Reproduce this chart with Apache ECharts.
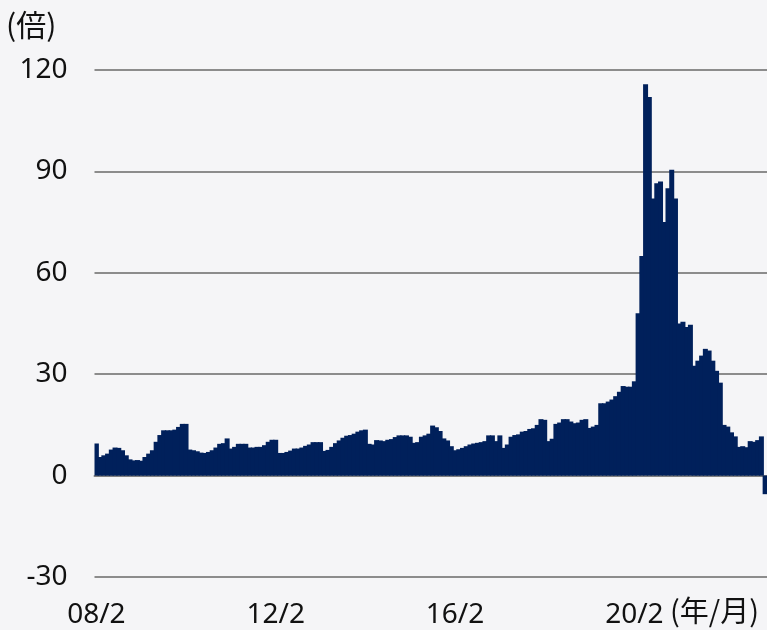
<!DOCTYPE html>
<html><head><meta charset="utf-8">
<script src="https://cdn.jsdelivr.net/npm/echarts@6/dist/echarts.min.js"></script>
<style>html,body{margin:0;padding:0;background:#f5f5f7}#c{width:767px;height:630px}</style>
</head><body><div id="c"></div>
<script>
// Monthly values, each array runs Feb of the year to Jan of the next year
const fy2008 = [9.5, 5.5, 6, 6.5, 7.7, 8.3, 8.2, 7.5, 6, 4.8, 4.5, 4.6];
const fy2009 = [4.4, 5.5, 6.5, 7.5, 10, 12, 13.4, 13.4, 13.4, 13.6, 14.4, 15.3];
const fy2010 = [15.3, 7.7, 7.5, 7.2, 6.8, 6.7, 7, 7.5, 8.3, 9.4, 9.6, 11];
const fy2011 = [8, 8.5, 9.4, 9.4, 9.4, 8.3, 8.3, 8.5, 8.5, 9, 10, 10.6];
const fy2012 = [10.6, 6.7, 6.7, 7, 7.4, 8, 8, 8.3, 8.8, 9.2, 9.9, 9.9];
const fy2013 = [9.9, 7.3, 7.6, 8.5, 9.6, 10.4, 11.2, 11.8, 12, 12.4, 13, 13.4];
const fy2014 = [13.6, 9.4, 9.2, 10.5, 10.4, 10.2, 10.6, 10.8, 11.4, 11.9, 11.9, 11.9];
const fy2015 = [11.5, 9.7, 9.9, 11.5, 11.9, 12.4, 14.8, 14.3, 13.2, 11, 10.4, 8.7];
const fy2016 = [7.5, 7.8, 8.2, 8.7, 9.2, 9.5, 9.7, 9.9, 10.2, 11.9, 11.9, 10.2];
const fy2017 = [11.9, 8.2, 9.2, 11.5, 12, 12.2, 13, 13.2, 13.8, 14, 15, 16.7];
const fy2018 = [16.5, 10.2, 10.9, 15.3, 15.7, 16.7, 16.7, 16, 15.5, 15.7, 16.5, 16.7];
const fy2019 = [14.1, 14.5, 15, 21.4, 21.4, 21.9, 22.5, 23.5, 24.8, 26.5, 26.3, 26.3];
const fy2020 = [27.9, 48, 65, 115.8, 112, 82, 86.5, 87, 75, 85, 90.5, 82];
const fy2021 = [45, 45.5, 44, 44.6, 32.5, 34, 35.5, 37.5, 37, 34, 31, 27.5];
const fy2022 = [15, 14.5, 12.8, 11.6, 8.5, 8.7, 8.4, 10.2, 10, 10.5, 11.6, -5.5];

const fiscalYears = [2008,2009,2010,2011,2012,2013,2014,2015,2016,2017,2018,2019,2020,2021,2022];
const monthOrder = [2,3,4,5,6,7,8,9,10,11,12,1];
const tickLabels = ['08/2', '12/2', '16/2', '20/2'];
const yTicks = {min: -30, max: 120, step: 30};

const values = [].concat(fy2008, fy2009, fy2010, fy2011, fy2012, fy2013, fy2014,
  fy2015, fy2016, fy2017, fy2018, fy2019, fy2020, fy2021, fy2022);
const categories = [];
fiscalYears.forEach(y => monthOrder.forEach(m => {
  const yy = (m === 1 ? y + 1 : y) % 100;
  categories.push(String(yy).padStart(2, '0') + '/' + m);
}));
const showTick = (i, v) => tickLabels.indexOf(categories[i]) >= 0;

const FONT = '"Noto Sans", "Noto Sans CJK JP", sans-serif';
const NAVY = '#00205b';
const chart = echarts.init(document.getElementById('c'), null, {renderer: 'canvas'});
chart.setOption({
  backgroundColor: '#f5f5f7',
  animation: false,
  textStyle: {fontFamily: FONT},
  grid: {left: 94.5, top: 70, width: 676, height: 507},
  xAxis: [{
    type: 'category', data: categories, position: 'bottom', boundaryGap: true,
    axisLine: {onZero: true, lineStyle: {color: '#808080', width: 2}},
    axisTick: {inside: true, length: 10, interval: showTick, lineStyle: {color: '#808080', width: 2}},
    axisLabel: {show: false}, splitLine: {show: false}
  }, {
    type: 'category', data: categories, position: 'bottom', boundaryGap: true,
    axisLine: {show: false, onZero: false}, axisTick: {show: false},
    axisLabel: {interval: showTick, fontSize: 28, color: '#111', margin: 24, fontFamily: FONT},
    splitLine: {show: false}
  }],
  yAxis: {
    type: 'value', min: yTicks.min, max: yTicks.max, interval: yTicks.step,
    axisLine: {show: false}, axisTick: {show: false},
    axisLabel: {fontSize: 28, color: '#111', margin: 27, fontFamily: FONT},
    splitLine: {lineStyle: {color: '#8c8c8c', width: 2}}
  },
  graphic: [
    {type: 'text', left: 6, top: 10, style: {text: '(倍)', fill: '#111', font: '30px "Noto Sans CJK JP"'}},
    {type: 'text', left: 670, top: 596, style: {text: '(年/月)', fill: '#111', font: '29px "Noto Sans CJK JP"'}}
  ],
  series: [{
    type: 'bar', data: values, xAxisIndex: 0, barWidth: 5,
    itemStyle: {color: NAVY}
  }]
});
</script></body></html>
